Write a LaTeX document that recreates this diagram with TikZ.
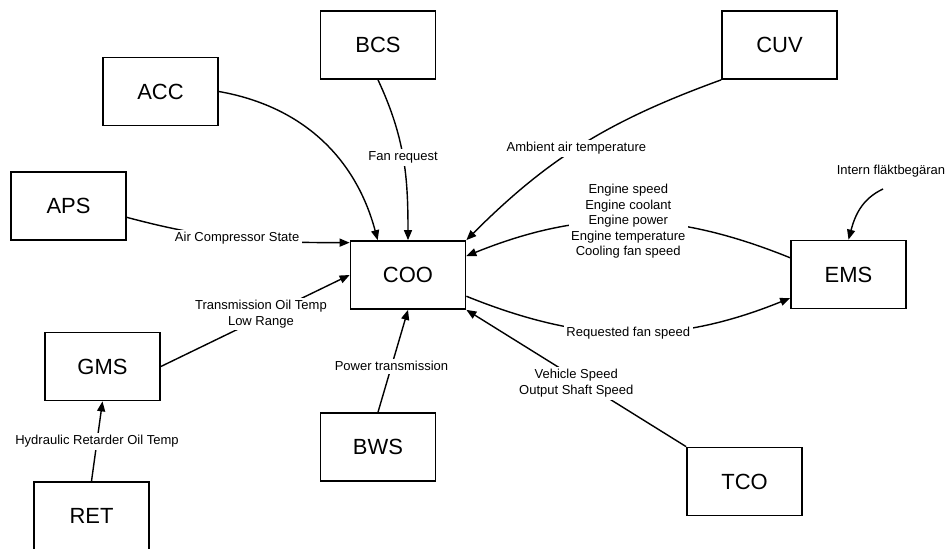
\documentclass[tikz,border=0pt]{standalone}
\usepackage{fontspec}
\setmainfont{Liberation Sans}
\usetikzlibrary{arrows.meta}
\tikzset{
  unit/.style={draw, line width=1pt, minimum width=2.3cm, minimum height=1.36cm, font=\fontsize{12.5}{15}\selectfont},
  sig/.style={line width=0.8pt, ->},
  lbl/.style={fill=white, inner sep=1.5pt, align=center, font=\fontsize{7.4}{8.8}\selectfont},
  >={Triangle[length=0.2cm,width=0.16cm]}
}
\begin{document}
\begin{tikzpicture}[x=0.02cm, y=0.02cm]
\useasboundingbox (0,0) rectangle (945,-548);
\node[unit] (bcs) at (378,-45) {BCS};
\node[unit] (acc) at (160.5,-91.5) {ACC};
\node[unit] (aps) at (68.5,-206) {APS};
\node[unit] (coo) at (408,-275) {COO};
\node[unit] (cuv) at (779.5,-45) {CUV};
\node[unit] (ems) at (848.5,-274.5) {EMS};
\node[unit] (gms) at (102.5,-366.5) {GMS};
\node[unit] (bws) at (378,-447) {BWS};
\node[unit] (tco) at (744.5,-481.5) {TCO};
\node[unit] (ret) at (91.5,-516) {RET};
\draw[sig] (acc.east) to[out=-10,in=105] (coo.131);
\draw[sig] (bcs.south) to[out=-65,in=90] node[lbl]{Fan request} (coo.north);
\draw[sig] (aps.-11) to[out=-15,in=180] node[lbl]{Air Compressor State} (coo.151);
\draw[sig] (gms.east) -- node[lbl, pos=0.53, yshift=0.08cm]{Transmission Oil Temp\\Low Range} (coo.west);
\draw[sig] (ret.north) -- node[lbl]{Hydraulic Retarder Oil Temp} (gms.south);
\draw[sig] (bws.north) -- node[lbl, pos=0.45]{Power transmission} (coo.south);
\draw[sig] (cuv.south west) to[out=200,in=45] node[lbl, pos=0.53]{Ambient air temperature} (coo.north east);
\draw[sig] (ems.164) to[out=158,in=22] node[lbl]{Engine speed\\Engine coolant\\Engine power\\Engine temperature\\Cooling fan speed} (coo.18);
\draw[sig] (coo.-20) to[out=-22,in=202] node[lbl]{Requested fan speed} (ems.202);
\draw[sig] (tco.north west) -- node[lbl, yshift=-0.1cm]{Vehicle Speed\\Output Shaft Speed} (coo.south east);
\node[lbl] (intern) at (891,-171) {Intern fläktbegäran};
\coordinate (intstart) at (883,-189);
\draw[sig] (intstart) to[out=205,in=75] (ems.north);
\end{tikzpicture}
\end{document}
